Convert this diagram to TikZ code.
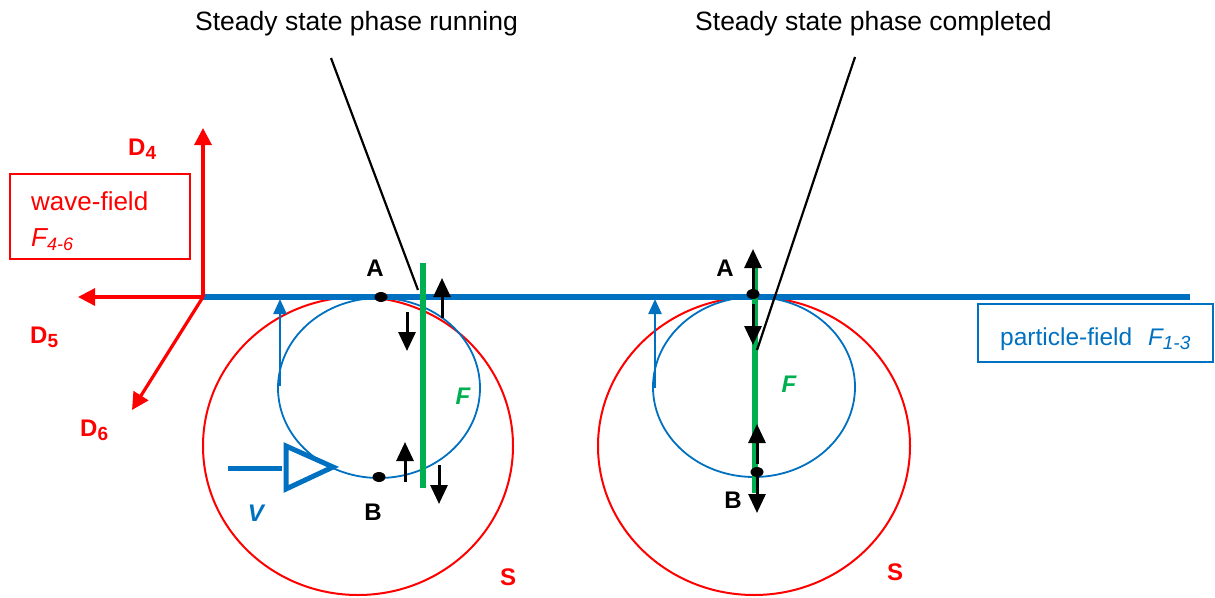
\documentclass[tikz,border=0pt]{standalone}
\usepackage{fontspec}
\setmainfont{Liberation Sans}
\usetikzlibrary{arrows.meta,shapes.geometric}
\definecolor{pblue}{HTML}{0070C0}
\definecolor{pred}{HTML}{FF0000}
\definecolor{pgreen}{HTML}{00B050}
\tikzset{
  big/.style={font=\fontsize{26.5}{31}\selectfont},
  lbl/.style={font=\fontsize{24}{28}\selectfont\bfseries, inner sep=0pt},
  redax/.style={pred, line width=3.2pt, -{Triangle[length=17pt,width=17pt]}},
  blkarr/.style={black, line width=3pt, -{Triangle[length=19pt,width=17pt]}},
  bluearr/.style={pblue, line width=2.4pt, -{Triangle[length=15pt,width=13pt]}},
  dotn/.style={ellipse, fill=black, minimum width=13pt, minimum height=10pt, inner sep=0pt},
  callout/.style={black, line width=2.2pt},
  greenline/.style={pgreen, line width=5.5pt},
}
\begin{document}
\begin{tikzpicture}[x=1pt,y=-1pt]
\useasboundingbox (0,0) rectangle (1215,597);
% red circles S
\draw[pred, line width=2pt] (358,446) ellipse [x radius=155, y radius=149];
\draw[pred, line width=2pt] (754,446) ellipse [x radius=156, y radius=149];
% blue ellipses
\draw[pblue, line width=1.8pt] (379,388) ellipse [x radius=101, y radius=90];
\draw[pblue, line width=1.8pt] (754,387) ellipse [x radius=101, y radius=90];
% particle-field line
\coordinate (O) at (203,297);
\coordinate (PE) at (1190,297);
\draw[pblue, line width=6pt] (O) -- (PE);
% red axes
\coordinate (D4t) at (203,128);
\coordinate (D5t) at (78,297);
\coordinate (D6t) at (132,410);
\draw[redax] (O) -- (D4t);
\draw[redax] (O) -- (D5t);
\draw[redax] (O) -- (D6t);
\node[lbl, pred, anchor=base west] (D4) at (128,155) {D{\fontsize{19}{22}\selectfont\raisebox{-4pt}{4}}};
\node[lbl, pred, anchor=base west] (D5) at (30,343) {D{\fontsize{19}{22}\selectfont\raisebox{-4pt}{5}}};
\node[lbl, pred, anchor=base west] (D6) at (80,436) {D{\fontsize{19}{22}\selectfont\raisebox{-4pt}{6}}};
% wave-field box
\draw[pred, line width=1.6pt] (10,174) rectangle (190,259);
\node[pred, font=\fontsize{26}{30}\selectfont, anchor=base west, inner sep=0pt] (wf) at (31,210) {wave-field};
\node[pred, font=\fontsize{26}{30}\selectfont\itshape, anchor=base west, inner sep=0pt] (wf2) at (31,246) {F{\fontsize{18}{22}\selectfont\raisebox{-4pt}{4-6}}};
% particle-field box
\draw[pblue, line width=1.6pt] (978,304) rectangle (1213,362);
\node[pblue, font=\fontsize{24.5}{28}\selectfont, anchor=base west, inner sep=0pt] (pf) at (1000,345) {particle-field};
\node[pblue, font=\fontsize{24}{28}\selectfont\itshape, anchor=base west, inner sep=0pt] (pfF) at (1148,345) {F{\fontsize{19}{22}\selectfont\raisebox{-4pt}{1-3}}};
% titles
\node[big, anchor=base west, inner sep=0pt] (t1) at (195,30) {Steady state phase running};
\node[big, anchor=base west, inner sep=0pt] (t2) at (695,30) {Steady state phase completed};
% left blue arrow and V
\coordinate (la0) at (280,386); \coordinate (la1) at (280,299);
\draw[bluearr] (la0) -- (la1);
\coordinate (ra0) at (655,388); \coordinate (ra1) at (655,299);
\draw[bluearr] (ra0) -- (ra1);
\coordinate (v1) at (228,468); \coordinate (v2) at (282,468);
\draw[pblue, line width=5pt] (v1) -- (v2);
\coordinate (tri1) at (286,446); \coordinate (tri2) at (286,489); \coordinate (tri3) at (333,467);
\draw[pblue, line width=5pt, line join=miter] (tri1) -- (tri2) -- (tri3) -- cycle;
\node[lbl, pblue, font=\fontsize{24}{28}\selectfont\bfseries\itshape] (V) at (256,513) {V};
% left green line
\coordinate (g1a) at (423,263); \coordinate (g1b) at (423,488);
\draw[greenline] (g1a) -- (g1b);
% left black arrows
\coordinate (a1s) at (442,318); \coordinate (a1e) at (442,278);
\draw[blkarr] (a1s) -- (a1e);
\coordinate (a2s) at (407,312); \coordinate (a2e) at (407,351);
\draw[blkarr] (a2s) -- (a2e);
\coordinate (a3s) at (405,482); \coordinate (a3e) at (405,442);
\draw[blkarr] (a3s) -- (a3e);
\coordinate (a4s) at (439,465); \coordinate (a4e) at (439,504);
\draw[blkarr] (a4s) -- (a4e);
% left dots
\node[dotn] (A1) at (381,297) {};
\node[dotn] (B1) at (379,477) {};
\node[lbl] (LA1) at (375,268) {A};
\node[lbl] (LB1) at (373,512) {B};
\node[lbl, pgreen, font=\fontsize{24}{28}\selectfont\bfseries\itshape] (F1) at (463,396) {F};
\node[lbl, pred] (S1) at (508,577) {S};
% left callout
\coordinate (c1a) at (331,58); \coordinate (c1b) at (418,290);
\draw[callout] (c1a) -- (c1b);
% right green line
\coordinate (g2a) at (755,268); \coordinate (g2b) at (755,493);
\draw[greenline] (g2a) -- (g2b);
% right black arrows
\coordinate (b1s) at (753,292); \coordinate (b1e) at (753,249);
\draw[blkarr] (b1s) -- (b1e);
\coordinate (b2s) at (753,304); \coordinate (b2e) at (753,345);
\draw[blkarr] (b2s) -- (b2e);
\coordinate (b3s) at (757,464); \coordinate (b3e) at (757,424);
\draw[blkarr] (b3s) -- (b3e);
\coordinate (b4s) at (757,474); \coordinate (b4e) at (757,513);
\draw[blkarr] (b4s) -- (b4e);
\node[dotn] (A2) at (753,294) {};
\node[dotn] (B2) at (757,472) {};
\node[lbl] (LA2) at (725,268) {A};
\node[lbl] (LB2) at (733,500) {B};
\node[lbl, pgreen, font=\fontsize{24}{28}\selectfont\bfseries\itshape] (F2) at (789,384) {F};
\node[lbl, pred] (S2) at (895,572) {S};
% right callout
\coordinate (c2a) at (855,57); \coordinate (c2b) at (757,350);
\draw[callout] (c2a) -- (c2b);
\end{tikzpicture}
\end{document}
